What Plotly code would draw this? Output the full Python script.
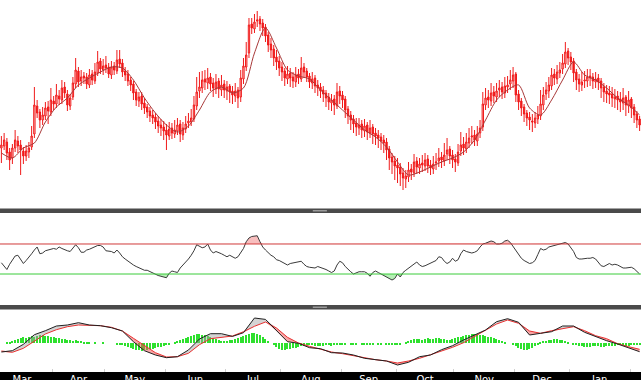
import numpy as np
import plotly.graph_objects as go
from plotly.subplots import make_subplots

# ---------------- data ----------------
months = ["Mar", "Apr", "May", "Jun", "Jul", "Aug", "Sep", "Oct", "Nov", "Dec", "Jan"]
# trading-day index of the first session of each month (Mar ... Feb)
month_start_idx = [-3, 19, 38, 60, 82, 102, 124, 144, 165, 187, 207, 229]

open_ = [60,62,66,56,50,60,67,63,57,52,
56,61,74,102,96,88,92,101,96,107,
104,112,108,121,114,102,111,124,137,127,
132,131,123,134,127,135,147,138,143,141,
133,142,137,149,145,137,134,128,124,116,
107,112,105,101,97,93,91,87,83,81,
78,72,80,74,77,84,73,79,85,86,
89,102,117,120,129,125,131,125,119,127,
118,124,117,122,117,112,118,111,129,141,
155,184,179,187,189,185,181,173,164,159,
151,147,141,137,129,135,131,126,134,129,
141,137,132,125,130,123,121,118,115,111,
105,109,102,117,113,109,99,93,89,85,
80,84,77,83,75,81,75,73,71,68,
66,59,51,47,43,41,35,29,31,39,
35,47,40,45,42,49,43,39,45,47,
51,47,54,59,53,49,45,57,64,59,
65,71,73,67,75,81,103,111,107,116,
111,118,121,115,121,124,127,134,114,107,
101,95,91,87,85,89,92,103,114,117,
122,134,129,135,139,144,157,151,147,136,
129,123,127,127,132,131,126,130,127,121,
117,115,114,109,112,109,105,111,102,109,
101,94,89]

high = [72,75,70,60,64,78,72,68,61,63,
66,82,121,108,99,101,106,107,120,112,
124,118,128,126,118,114,131,150,141,138,
136,135,139,138,145,157,150,149,152,145,
147,146,158,158,149,141,138,131,127,119,
116,116,110,104,101,98,95,92,89,87,
84,86,85,88,90,88,86,92,95,99,
112,131,136,137,138,140,135,130,134,130,
133,128,127,124,122,125,121,138,150,166,
190,190,194,197,192,189,184,176,170,163,
158,152,146,140,142,140,136,141,139,151,
145,140,135,136,133,128,125,122,118,115,
114,113,125,122,117,112,102,97,93,90,
90,88,89,86,88,84,80,78,75,73,
70,62,55,52,50,45,40,38,46,44,
54,51,50,53,55,53,48,52,55,60,
56,65,70,62,58,54,64,76,71,75,
80,82,78,82,88,116,120,118,125,122,
125,128,126,131,132,138,141,136,118,110,
104,98,96,94,96,102,118,121,126,131,
140,139,143,146,154,166,160,156,150,139,
134,136,137,139,139,135,136,134,130,125,
123,122,121,119,117,116,120,113,117,111,
104,97,92]

low = [45,58,48,38,44,56,55,33,44,47,
50,58,70,90,80,83,88,84,92,98,
100,103,104,110,97,98,108,120,121,122,
124,119,120,123,124,132,134,133,135,130,
129,133,134,140,131,127,122,117,108,102,
101,98,94,90,86,84,79,75,72,68,
58,68,69,70,73,66,68,75,80,82,
86,98,110,115,118,119,117,111,114,110,
112,110,108,105,104,106,100,106,124,137,
150,174,175,181,177,172,166,156,150,142,
138,132,127,122,124,121,120,121,124,126,
130,126,120,119,115,112,110,106,101,98,
97,93,99,104,100,90,84,78,75,72,
73,70,71,68,70,64,63,60,58,55,
48,38,34,28,25,22,18,20,26,28,
31,34,34,36,37,35,33,34,38,41,
40,42,48,44,40,36,42,52,53,55,
60,64,62,62,70,77,98,100,102,105,
106,111,109,110,115,118,120,106,98,92,
86,82,78,76,80,84,88,98,108,110,
118,123,124,130,134,140,143,138,126,118,
116,117,120,121,122,119,120,118,110,106,
105,104,101,100,98,96,98,92,95,90,
85,80,77]

close = [63,68,55,48,60,68,62,58,52,57,
60,72,103,95,88,93,100,97,108,104,
113,109,120,115,103,110,125,138,126,131,
130,124,133,128,136,146,139,142,140,134,
141,138,148,144,136,133,127,123,115,108,
111,104,100,96,92,90,86,82,80,77,
73,79,75,78,83,74,80,84,87,90,
103,116,121,128,126,130,124,120,126,119,
123,118,121,116,113,117,110,130,142,153,
183,180,186,188,184,180,172,163,158,150,
146,140,136,130,134,130,127,133,130,140,
136,131,126,129,122,120,117,114,110,106,
108,103,116,112,108,98,92,88,84,81,
83,78,82,76,80,74,72,70,67,65,
58,50,46,42,40,34,30,32,38,36,
46,41,44,43,48,42,40,44,46,50,
48,53,58,52,48,46,56,63,60,66,
70,72,68,74,80,104,110,108,115,112,
117,120,116,122,123,128,133,113,106,100,
94,90,88,86,90,93,104,113,118,123,
133,130,136,138,145,156,150,146,135,128,
124,126,128,131,130,127,129,126,120,116,
114,113,110,111,108,106,110,103,108,100,
93,88,83]

# moving average, sampled every 4 sessions
ma_idx = list(range(0, 233, 4))
ma = [55,50,60,65,86,101,110,123,130,136,141,140,128,110,95,83,76,82,98,116,
      121,115,120,155,180,160,138,132,129,118,108,98,88,78,71,61,46,33,36,41,
      46,50,56,68,88,108,118,123,100,93,108,128,146,133,128,120,110,103,93]

rsi = [45,41,36,43,49,54,55,50,44,48,
52,57,62,66,57,58,61,62,62,64,
63,66,64,62,61,60,64,69,65,59,
59,62,63,65,66,68,68,66,61,61,
60,58,62,58,53,50,47,44,42,40,
38,36,35,35,33,32,30,28,27,26,
25,31,34,33,32,38,42,45,50,55,
61,69,67,65,66,70,62,58,60,59,
57,55,53,55,53,51,53,59,64,73,
78,80,81,81,73,66,62,58,55,53,
49,48,46,43,42,44,45,46,47,47,
43,40,39,38,38,40,
39,38,36,34,32,34,42,47,45,40,
36,33,30,32,33,33,33,31,27,32,
34,32,30,28,26,25,22,24,30,26,
32,35,38,41,43,46,42,40,41,43,
45,46,48,53,52,47,44,46,51,47,
49,57,62,60,59,58,59,61,66,70,
71,73,74,73,70,70,71,74,75,72,
67,61,56,51,48,46,44,45,48,56,
64,62,63,66,67,68,69,71,71,72,
70,65,60,52,50,50,51,51,51,52,
50,45,41,40,42,44,42,43,42,40,
38,38,39,39,37,34,30]
rsi_upper = 70
rsi_lower = 30

# MACD / signal, sampled every 4 sessions
macd_idx = list(range(0, 233, 4))
macd = [-9.3,-8.0,-1.6,8.0,12.0,16.7,17.7,20.0,17.7,17.0,15.0,11.7,1.0,-8.0,-12.3,
        -15.0,-14.0,-7.3,3.7,9.0,9.0,6.3,10.0,24.7,23.3,11.7,1.0,-0.6,-5.0,-6.0,
        -10.0,-10.3,-12.3,-15.6,-16.6,-18.3,-22.3,-19.6,-14.0,-12.3,-7.0,-3.0,2.7,7.7,12.7,
        21.0,24.0,20.4,7.7,9.4,11.0,16.7,16.7,10.4,6.0,2.0,-1.3,-5.3,-9.0]
signal = [-8.3,-9.6,-5.6,1.7,8.7,13.0,16.0,17.7,17.7,17.0,15.4,11.7,4.4,-3.0,-10.0,
          -14.3,-14.0,-10.6,-2.0,4.0,5.7,6.7,11.0,16.4,20.7,14.7,5.4,-0.3,-3.6,-6.6,
          -9.3,-11.0,-13.0,-15.3,-17.0,-18.3,-20.3,-18.3,-15.6,-12.0,-8.3,-4.6,0.0,6.0,12.4,
          18.7,22.7,19.4,11.7,9.4,12.0,14.0,16.0,12.0,7.0,4.0,-1.0,-4.0,-6.6]
hist = [0,0,1,1,2,
3,4,5,6,5,6,7,6,
7,8,8,7,7,6,6,5,5,4,4,3,
3,2,3,2,2,1,1,1,0,1,
0,0,1,0,0,0,0,-1,-1,-2,-3,-4,-5,
-6,-7,-7,-8,-7,-7,-6,-6,-5,-4,-4,-3,-2,-1,0,
1,2,3,4,
5,6,7,8,9,9,8,8,7,6,5,4,
3,2,2,2,3,3,4,5,
6,7,8,9,10,10,9,8,6,4,
2,0,-2,-4,-6,-7,-7,-6,-6,-5,-5,-4,-3,-3,-2,
-2,-2,-3,-3,
-3,-3,-2,-2,-3,-2,-1,-1,
-1,-1,0,-1,-1,-1,0,-1,-1,-1,-1,-1,0,-1,-1,0,-1,
-1,-1,-2,-2,-1,0,1,
2,3,4,4,4,3,4,5,4,4,5,5,4,4,3,3,4,
5,6,6,7,8,8,9,9,9,8,8,7,6,6,5,4,3,2,
1,0,0,
-1,-3,-5,-6,-7,-7,-6,-5,-3,-1,
1,2,2,3,3,4,4,3,3,2,1,0,
-1,-2,-3,-3,-4,-4,-4,-3,-3,-3,-4,-4,-3,-3,-3,-3,-2,-2,-2,-3,-3,-2,-2,-2,-2]

# ---------------- figure ----------------
W, H = 641, 380
MB = 8
PH = H - MB

def py(px):
    return (PH - px) / PH

fig = make_subplots(rows=3, cols=1, shared_xaxes=True, vertical_spacing=0.01)

xp = np.arange(len(close))
fig.add_trace(go.Candlestick(
    x=xp, open=open_, high=high, low=low, close=close,
    increasing=dict(line=dict(color="#f01a1a", width=1), fillcolor="#ffd6d6"),
    decreasing=dict(line=dict(color="#f01a1a", width=1), fillcolor="#f01a1a"),
    whiskerwidth=0, hoverinfo="skip", showlegend=False), row=1, col=1)
fig.add_trace(go.Scatter(x=ma_idx, y=ma, mode="lines",
    line=dict(color="#a83838", width=1, shape="spline", smoothing=0.8),
    hoverinfo="skip", showlegend=False), row=1, col=1)

# RSI
xr = np.arange(len(rsi))
rsi_a = np.array(rsi, dtype=float)
fig.add_trace(go.Scatter(x=xr, y=[rsi_upper] * len(rsi), mode="lines",
    line=dict(width=0), hoverinfo="skip", showlegend=False), row=2, col=1)
fig.add_trace(go.Scatter(x=xr, y=np.maximum(rsi_a, rsi_upper), mode="lines",
    line=dict(width=0), fill="tonexty", fillcolor="rgba(240,110,110,0.45)",
    hoverinfo="skip", showlegend=False), row=2, col=1)
fig.add_trace(go.Scatter(x=xr, y=[rsi_lower] * len(rsi), mode="lines",
    line=dict(width=0), hoverinfo="skip", showlegend=False), row=2, col=1)
fig.add_trace(go.Scatter(x=xr, y=np.minimum(rsi_a, rsi_lower), mode="lines",
    line=dict(width=0), fill="tonexty", fillcolor="rgba(90,220,90,0.45)",
    hoverinfo="skip", showlegend=False), row=2, col=1)
fig.add_hline(y=rsi_upper, line=dict(color="#d03a3a", width=1), row=2, col=1)
fig.add_hline(y=rsi_lower, line=dict(color="#3acc3a", width=1), row=2, col=1)
fig.add_trace(go.Scatter(x=xr, y=rsi, mode="lines",
    line=dict(color="#3a3a3a", width=1), hoverinfo="skip", showlegend=False), row=2, col=1)

# MACD
fig.add_hline(y=0, line=dict(color="#c8c8c8", width=1, dash="dot"), row=3, col=1)
xh = np.arange(len(hist))
fig.add_trace(go.Bar(x=xh, y=hist, width=0.45, marker=dict(color="#2ee02e", line=dict(width=0)),
    hoverinfo="skip", showlegend=False), row=3, col=1)
m_a = np.array(macd)
s_a = np.array(signal)
fig.add_trace(go.Scatter(x=macd_idx, y=signal, mode="lines", line=dict(width=0),
    hoverinfo="skip", showlegend=False), row=3, col=1)
fig.add_trace(go.Scatter(x=macd_idx, y=np.maximum(m_a, s_a), mode="lines", line=dict(width=0),
    fill="tonexty", fillcolor="rgba(160,160,160,0.45)", hoverinfo="skip", showlegend=False), row=3, col=1)
fig.add_trace(go.Scatter(x=macd_idx, y=signal, mode="lines", line=dict(width=0),
    hoverinfo="skip", showlegend=False), row=3, col=1)
fig.add_trace(go.Scatter(x=macd_idx, y=np.minimum(m_a, s_a), mode="lines", line=dict(width=0),
    fill="tonexty", fillcolor="rgba(240,80,80,0.5)", hoverinfo="skip", showlegend=False), row=3, col=1)
fig.add_trace(go.Scatter(x=macd_idx, y=signal, mode="lines",
    line=dict(color="#e83030", width=1), hoverinfo="skip", showlegend=False), row=3, col=1)
fig.add_trace(go.Scatter(x=macd_idx, y=macd, mode="lines",
    line=dict(color="#202020", width=1), hoverinfo="skip", showlegend=False), row=3, col=1)

# axes
n = len(close)
xrange_ = [-0.5, n - 0.5]
bounds = [m - 0.5 for m in month_start_idx]
mids = [(bounds[k] + bounds[k + 1]) / 2 for k in range(len(months))]

for ax in ("xaxis", "xaxis2"):
    fig.layout[ax].update(range=xrange_, showgrid=False, zeroline=False, showticklabels=False,
                          ticks="", showline=False, rangeslider=dict(visible=False))
fig.layout.xaxis3.update(range=xrange_, showgrid=False, zeroline=False, showline=False,
    tickmode="array", tickvals=mids, ticktext=months, ticks="",
    tickfont=dict(color="white", size=10, family="DejaVu Sans"),
    minor=dict(tickmode="array", tickvals=bounds, ticks="inside", ticklen=3,
               tickcolor="#d0d0d0", tickwidth=1, showgrid=False),
    automargin=False, rangeslider=dict(visible=False))

fig.layout.yaxis.update(domain=[py(208.5), 1.0], range=[-0.5, 208], visible=False)
fig.layout.yaxis2.update(domain=[py(305), py(213)], range=[-11.3, 111.3], visible=False)
fig.layout.yaxis3.update(domain=[0.0, py(309.5)], range=[-29.3, 33.2], visible=False)

shapes = list(fig.layout.shapes)
# separators between panes
for top, bot in ((208.5, 213), (305, 309.5)):
    shapes.append(dict(type="rect", xref="paper", yref="paper", x0=0, x1=1,
                       y0=py(bot), y1=py(top), fillcolor="#4a4a4a", line=dict(width=0), layer="above"))
    shapes.append(dict(type="rect", xref="paper", yref="paper", x0=0.488, x1=0.51,
                       y0=py(bot - 1.5), y1=py(top + 1.5), fillcolor="#9a9a9a", line=dict(width=0), layer="above"))
# black date strip
shapes.append(dict(type="rect", xref="paper", yref="paper", x0=0, x1=1,
                   y0=-MB / PH - 0.01, y1=0, fillcolor="black", line=dict(width=0), layer="below"))
fig.layout.shapes = shapes

fig.update_layout(width=W, height=H, margin=dict(l=0, r=0, t=0, b=MB),
                  paper_bgcolor="white", plot_bgcolor="white", bargap=0,
                  showlegend=False, hovermode=False)

fig.write_html("out.html")
